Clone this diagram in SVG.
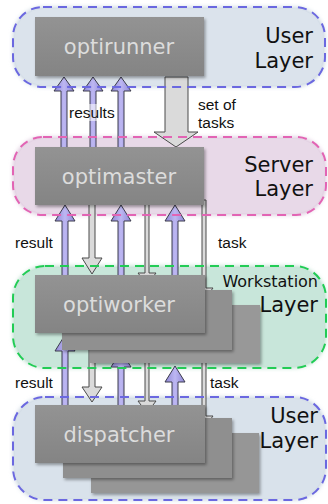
<svg xmlns="http://www.w3.org/2000/svg" width="328" height="504" viewBox="0 0 328 504">
<defs>
<linearGradient id="boxg" x1="0" y1="0" x2="0" y2="1"><stop offset="0" stop-color="#939393"/><stop offset="1" stop-color="#848484"/></linearGradient>
<linearGradient id="purp" x1="0" y1="0" x2="1" y2="0"><stop offset="0" stop-color="#8e86d6"/><stop offset="0.5" stop-color="#bdb7f2"/><stop offset="1" stop-color="#8e86d6"/></linearGradient>
<filter id="sh" x="-10%" y="-10%" width="130%" height="140%"><feDropShadow dx="1.5" dy="2" stdDeviation="1.5" flood-color="#000" flood-opacity="0.35"/></filter>
<filter id="glow" x="-10%" y="-20%" width="120%" height="140%"><feGaussianBlur stdDeviation="2"/></filter>
</defs>
<style>
.box{fill:url(#boxg);filter:url(#sh);}
.bt{font-family:"DejaVu Sans",Verdana,sans-serif;font-size:21px;fill:#dcdcdc;text-anchor:middle;}
.lt{font-family:"DejaVu Sans",Verdana,sans-serif;font-size:21px;fill:#111;text-anchor:end;}
.at{font-family:"Liberation Sans",Arial,sans-serif;font-size:15.5px;fill:#111;}
.up{fill:url(#purp);stroke:#3c3c4c;stroke-width:1;}
.dn{fill:#dadada;stroke:#4a4a4a;stroke-width:1;}
.dash{fill:none;stroke-width:2;stroke-dasharray:9 6;}
</style>

<g id="layer-user-top">
<rect x="13" y="7" width="312" height="80" rx="30" fill="#c9d5e1" filter="url(#glow)"/>
<rect x="15" y="9" width="308" height="76" rx="28" fill="#dbe3ec"/>
<text class="lt" x="313" y="43">User</text>
<text class="lt" x="313" y="68">Layer</text>
</g>
<g id="layer-server">
<rect x="13" y="137" width="313" height="78" rx="30" fill="#dcc6dc" filter="url(#glow)"/>
<rect x="15" y="139" width="309" height="74" rx="28" fill="#e8d9e8"/>
<text class="lt" x="313" y="172">Server</text>
<text class="lt" x="313" y="196">Layer</text>
</g>
<g id="layer-workstation">
<rect x="13" y="266" width="313" height="102" rx="32" fill="#b4dcca" filter="url(#glow)"/>
<rect x="15" y="268" width="309" height="98" rx="30" fill="#c8e6da"/>
<text class="lt" x="318" y="287" style="font-size:16px">Workstation</text>
<text class="lt" x="318" y="312">Layer</text>
</g>
<g id="layer-user-bottom">
<rect x="13" y="397" width="313" height="103" rx="32" fill="#c7d4e0" filter="url(#glow)"/>
<rect x="15" y="399" width="309" height="99" rx="30" fill="#d9e2eb"/>
<text class="lt" x="318" y="423">User</text>
<text class="lt" x="318" y="448">Layer</text>
</g>

<g id="connectors">
<!-- results (optimaster -> optirunner) -->
<polygon class="up" points="64,77 74,91 67,91 67,150 61,150 61,91 54,91"/>
<polygon class="up" points="93,77 103,91 96,91 96,150 90,150 90,91 83,91"/>
<polygon class="up" points="121,77 131,91 124,91 124,150 118,150 118,91 111,91"/>
<rect x="68" y="104" width="49" height="17" fill="#fff" fill-opacity="0.55"/>
<text class="at" x="69" y="118">results</text>
<!-- set of tasks -->
<polygon class="dn" points="165,77 188,77 188,132 198,132 176,147 154,132 165,132"/>
<text class="at" x="198" y="110">set of</text>
<text class="at" x="198" y="128">tasks</text>
<!-- optiworker <-> optimaster -->
<polygon class="up" points="65,205 75,221 68,221 68,280 62,280 62,221 55,221"/>
<polygon class="up" points="121,205 131,221 124,221 124,280 118,280 118,221 111,221"/>
<polygon class="up" points="175,205 185,221 178,221 178,280 172,280 172,221 165,221"/>
<polygon class="dn" points="89,200 95,200 95,258 102,258 92,274 82,258 89,258"/>
<polygon class="dn" points="145,200 149,200 149,273 156,273 147,285 138,273 145,273"/>
<polygon class="dn" points="202,200 206,200 206,288 213,288 204,300 195,288 202,288"/>
<text class="at" x="15" y="248">result</text>
<text class="at" x="218" y="248">task</text>
<!-- dispatcher <-> optiworker -->
<polygon class="up" points="65,335 75,351 68,351 68,410 62,410 62,351 55,351"/>
<polygon class="up" points="121,351 131,367 124,367 124,425 118,425 118,367 111,367"/>
<polygon class="up" points="175,366 185,382 178,382 178,440 172,440 172,382 165,382"/>
<polygon class="dn" points="89,330 95,330 95,387 102,387 92,402 82,387 89,387"/>
<polygon class="dn" points="145,345 149,345 149,401 156,401 147,413 138,401 145,401"/>
<polygon class="dn" points="202,360 206,360 206,416 213,416 204,428 195,416 202,416"/>
<text class="at" x="15" y="388">result</text>
<text class="at" x="210" y="388">task</text>
</g>

<g id="layer-outlines">
<rect class="dash" x="13" y="7" width="312" height="80" rx="30" stroke="#6b68e0"/>
<rect class="dash" x="13" y="137" width="313" height="78" rx="30" stroke="#e264b4"/>
<rect class="dash" x="13" y="266" width="313" height="102" rx="32" stroke="#22cc55"/>
<rect class="dash" x="13" y="397" width="313" height="103" rx="32" stroke="#6b68e0"/>
</g>

<g id="optirunner">
<rect class="box" x="35" y="17" width="169" height="59"/>
<text class="bt" x="119" y="54">optirunner</text>
</g>
<g id="optimaster">
<rect class="box" x="35" y="147" width="169" height="58"/>
<text class="bt" x="119" y="184">optimaster</text>
</g>
<g id="optiworker">
<rect class="box" x="90" y="305" width="170" height="58" style="fill:#989898"/>
<rect class="box" x="62" y="290" width="170" height="60" style="fill:#909090"/>
<rect class="box" x="35" y="275" width="170" height="58"/>
<text class="bt" x="119" y="312">optiworker</text>
</g>
<g id="dispatcher">
<rect class="box" x="91" y="433" width="168" height="60" style="fill:#969696"/>
<rect class="box" x="63" y="418" width="169" height="60" style="fill:#8f8f8f"/>
<rect class="box" x="35" y="405" width="170" height="58"/>
<text class="bt" x="119" y="442">dispatcher</text>
</g>
</svg>
